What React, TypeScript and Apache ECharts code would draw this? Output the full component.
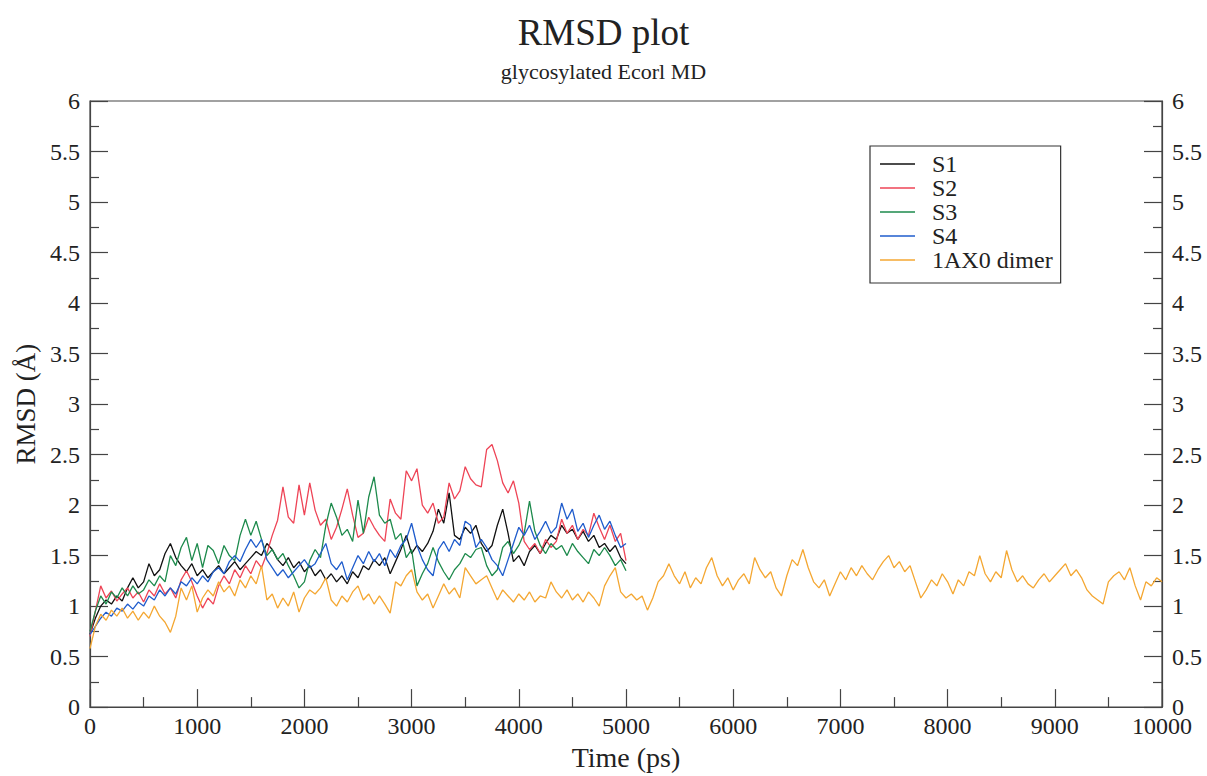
import React, { useEffect, useRef } from "react";
import * as echarts from "echarts";

const STEP_PS = 50;
const seriesNames = ["S1", "S2", "S3", "S4", "1AX0 dimer"];
const seriesColors = ["#111111", "#ee4456", "#1d8a4c", "#1f5ccc", "#f4a732"];

const s1 = [
  0.72, 0.88, 1.0, 1.06, 1.02, 1.1, 1.05, 1.18, 1.28, 1.18,
  1.24, 1.42, 1.3, 1.36, 1.52, 1.62, 1.48, 1.4, 1.34, 1.42,
  1.3, 1.36, 1.28, 1.34, 1.4, 1.32, 1.38, 1.44, 1.36, 1.42,
  1.48, 1.54, 1.5, 1.62, 1.56, 1.46, 1.4, 1.48, 1.38, 1.44,
  1.34, 1.4, 1.3, 1.36, 1.26, 1.32, 1.24, 1.3, 1.22, 1.34,
  1.28, 1.4, 1.36, 1.46, 1.4, 1.48, 1.32, 1.44, 1.56, 1.7,
  1.52, 1.6, 1.54, 1.62, 1.74, 1.96, 1.82, 2.12, 1.7, 1.66,
  1.78, 1.72, 1.8, 1.62, 1.54, 1.6, 1.8, 1.96, 1.72, 1.44,
  1.5, 1.4, 1.54, 1.6, 1.52, 1.62, 1.7, 1.66, 1.8, 1.72,
  1.76, 1.66, 1.74, 1.64, 1.7, 1.58, 1.62, 1.54, 1.6, 1.48,
  1.42,
];

const s2 = [
  0.7, 0.95, 1.2, 1.08, 1.15, 1.05, 1.12, 1.18, 1.08, 1.14,
  1.04, 1.16, 1.1, 1.22, 1.12, 1.18, 1.08, 1.26, 1.35, 1.24,
  1.1, 0.98, 1.08, 1.02, 1.2, 1.3, 1.22, 1.36, 1.28, 1.4,
  1.32, 1.45, 1.38, 1.52, 1.7, 1.85, 2.18, 1.88, 1.82, 2.2,
  1.9, 2.22, 1.95, 1.8, 1.86, 1.66, 1.78, 1.96, 2.16, 1.9,
  1.68, 1.72, 1.88, 1.78, 1.7, 1.64, 2.06, 1.92, 1.86, 2.34,
  2.24, 2.36, 2.0, 1.92, 2.02, 1.82, 1.88, 2.22, 2.06, 2.14,
  2.38, 2.26, 2.2, 2.18, 2.55, 2.6, 2.44, 2.22, 2.12, 2.24,
  2.02, 1.64, 1.56, 1.62, 1.52, 1.66, 1.58, 1.64, 1.86, 1.72,
  1.8, 1.66, 1.76, 1.7, 1.92, 1.78, 1.66, 1.8, 1.64, 1.72,
  1.45,
];

const s3 = [
  0.75, 0.95, 1.1, 1.02, 1.14, 1.08, 1.18, 1.1, 1.2, 1.12,
  1.16, 1.26, 1.2, 1.3, 1.24, 1.5, 1.4, 1.58, 1.68, 1.45,
  1.62, 1.38, 1.6, 1.55, 1.42, 1.6, 1.5, 1.45, 1.7, 1.86,
  1.7, 1.84, 1.66, 1.5, 1.56, 1.46, 1.52, 1.4, 1.3, 1.18,
  1.24, 1.45, 1.56, 1.48, 1.8, 2.02, 1.88, 1.7, 1.76, 1.64,
  2.05, 1.72, 2.08, 2.28, 1.9, 1.82, 1.86, 1.66, 1.72, 1.48,
  1.56, 1.2, 1.32, 1.42, 1.58, 1.44, 1.34, 1.26, 1.36, 1.42,
  1.52, 1.48, 1.56, 1.58, 1.4, 1.3, 1.36, 1.58, 1.64, 1.52,
  1.6, 1.72, 2.04, 1.74, 1.6, 1.52, 1.62, 1.56, 1.6, 1.5,
  1.62, 1.54, 1.48, 1.42, 1.56, 1.5, 1.58, 1.5, 1.4, 1.46,
  1.35,
];

const s4 = [
  0.72, 0.8, 0.88, 0.94, 0.9, 0.98, 0.95, 1.02, 0.97, 1.04,
  1.0, 1.1, 1.06, 1.16, 1.1, 1.18, 1.12, 1.24, 1.2, 1.28,
  1.22, 1.3, 1.24, 1.34, 1.38, 1.32, 1.44, 1.5, 1.44, 1.56,
  1.66, 1.58, 1.66, 1.46, 1.38, 1.3, 1.36, 1.28, 1.34, 1.4,
  1.46, 1.38, 1.42, 1.52, 1.62, 1.42, 1.36, 1.44, 1.26, 1.38,
  1.5, 1.42, 1.54, 1.44, 1.52, 1.4, 1.56, 1.48, 1.6, 1.66,
  1.82, 1.6, 1.46, 1.36, 1.3, 1.56, 1.64, 1.54, 1.66, 1.6,
  1.84, 1.8, 1.58, 1.66, 1.58, 1.46, 1.4, 1.3, 1.46, 1.62,
  1.78, 1.7, 1.8, 1.66, 1.74, 1.84, 1.72, 1.78, 2.02, 1.86,
  1.96, 1.74, 1.82, 1.68, 1.8, 1.9, 1.76, 1.84, 1.7, 1.58,
  1.62,
];

const dimer = [
  0.58, 0.8, 0.92, 0.86, 0.96, 0.9, 0.98, 0.88, 0.95, 0.86,
  0.94, 0.88, 1.0, 0.9, 0.84, 0.74, 0.9, 1.18, 1.06, 1.2,
  0.94, 1.08, 1.16, 1.1, 1.24, 1.14, 1.2, 1.1, 1.26, 1.18,
  1.3, 1.22, 1.4, 1.06, 1.12, 0.98, 1.08, 1.0, 1.14, 0.94,
  1.08, 1.16, 1.12, 1.18, 1.28, 1.06, 1.0, 1.1, 1.04, 1.14,
  1.2, 1.06, 1.12, 1.02, 1.1, 1.02, 0.93, 1.24, 1.2, 1.3,
  1.36, 1.14, 1.06, 1.12, 0.98, 1.1, 1.22, 1.12, 1.18, 1.08,
  1.38, 1.3, 1.22, 1.26, 1.3, 1.18, 1.06, 1.16, 1.1, 1.04,
  1.12, 1.06, 1.14, 1.04, 1.1, 1.08, 1.24, 1.14, 1.08, 1.16,
  1.06, 1.12, 1.04, 1.14, 1.08, 1.0, 1.2, 1.3, 1.38, 1.14,
  1.08, 1.12, 1.06, 1.1, 0.96, 1.08, 1.24, 1.3, 1.42, 1.3,
  1.22, 1.34, 1.18, 1.28, 1.22, 1.38, 1.48, 1.3, 1.2, 1.28,
  1.16, 1.26, 1.32, 1.22, 1.48, 1.36, 1.28, 1.34, 1.18, 1.1,
  1.3, 1.46, 1.4, 1.56, 1.38, 1.24, 1.18, 1.26, 1.1, 1.22,
  1.34, 1.26, 1.38, 1.3, 1.4, 1.32, 1.26, 1.36, 1.44, 1.5,
  1.38, 1.44, 1.34, 1.4, 1.24, 1.08, 1.16, 1.26, 1.2, 1.32,
  1.24, 1.12, 1.26, 1.2, 1.34, 1.3, 1.5, 1.32, 1.24, 1.34,
  1.28, 1.55, 1.36, 1.24, 1.3, 1.22, 1.18, 1.26, 1.32, 1.24,
  1.3, 1.36, 1.42, 1.3, 1.36, 1.28, 1.16, 1.1, 1.06, 1.02,
  1.24, 1.3, 1.34, 1.26, 1.38, 1.2, 1.06, 1.24, 1.2, 1.28,
  1.24,
];

const allSeries = [s1, s2, s3, s4, dimer];

const FONT = "Liberation Serif";
const TXT = "#222";
const AX = "#444";

export default function App() {
  const ref = useRef<HTMLDivElement>(null);
  useEffect(() => {
    document.body.style.margin = "0";
    const chart = echarts.init(ref.current!, null, { renderer: "svg" });
    const yAxisBase = (pos: "left" | "right") => ({
      type: "value",
      position: pos,
      min: 0,
      max: 6,
      interval: 0.5,
      axisLine: { show: true, lineStyle: { color: AX, width: 1.2 } },
      axisTick: { show: true, inside: true, length: 18, lineStyle: { color: AX, width: 1.2 } },
      minorTick: { show: true, splitNumber: 2, length: 9, lineStyle: { color: AX, width: 1.2 } },
      splitLine: { show: false },
      axisLabel: { fontFamily: FONT, fontSize: 24, lineHeight: 16, color: TXT, margin: 10 },
    });
    chart.setOption({
      animation: false,
      backgroundColor: "#ffffff",
      textStyle: { fontFamily: FONT },
      title: [
        {
          text: "RMSD plot",
          left: "center",
          top: 9,
          textStyle: { fontFamily: FONT, fontSize: 37, fontWeight: "normal", color: TXT },
        },
        {
          text: "glycosylated Ecorl MD",
          left: "center",
          top: 55,
          textStyle: { fontFamily: FONT, fontSize: 22, fontWeight: "normal", color: TXT },
        },
      ],
      grid: {
        left: 90,
        right: 45,
        top: 101,
        bottom: 61,
        show: true,
        borderColor: AX,
        borderWidth: 1.2,
        backgroundColor: "transparent",
      },
      legend: {
        orient: "vertical",
        left: 870,
        top: 146,
        padding: [6, 8, 11, 10],
        icon: "rect",
        itemWidth: 35,
        itemHeight: 1.5,
        itemGap: 0,
        borderColor: "#333",
        borderWidth: 1.2,
        data: seriesNames,
        formatter: (name: string) => "  " + name,
        textStyle: { fontFamily: FONT, fontSize: 24, lineHeight: 24, color: TXT },
      },
      xAxis: {
        type: "value",
        min: 0,
        max: 10000,
        interval: 1000,
        name: "Time (ps)",
        nameLocation: "middle",
        nameGap: 31,
        nameTextStyle: { fontFamily: FONT, fontSize: 28, color: TXT },
        axisLine: { show: true, lineStyle: { color: AX, width: 1.2 } },
        axisTick: { show: true, inside: true, length: 18, lineStyle: { color: AX, width: 1.2 } },
        minorTick: { show: true, splitNumber: 2, length: 10, lineStyle: { color: AX, width: 1.2 } },
        splitLine: { show: false },
        axisLabel: {
          fontFamily: FONT,
          fontSize: 24,
          lineHeight: 16,
          color: TXT,
          margin: 11,
          showMaxLabel: true,
          showMinLabel: true,
          formatter: (v: number) => String(v),
        },
      },
      yAxis: [
        {
          ...yAxisBase("left"),
          name: "RMSD (Å)",
          nameLocation: "middle",
          nameGap: 48,
          nameTextStyle: { fontFamily: FONT, fontSize: 27, color: TXT },
        },
        yAxisBase("right"),
      ],
      series: allSeries.map((arr, k) => ({
        name: seriesNames[k],
        type: "line",
        yAxisIndex: 0,
        symbol: "none",
        showSymbol: false,
        color: seriesColors[k],
        lineStyle: { color: seriesColors[k], width: 1.3 },
        data: arr.map((v, i) => [i * STEP_PS, v]),
      })),
    });
    return () => chart.dispose();
  }, []);
  return <div ref={ref} style={{ width: 1207, height: 776 }} />;
}
